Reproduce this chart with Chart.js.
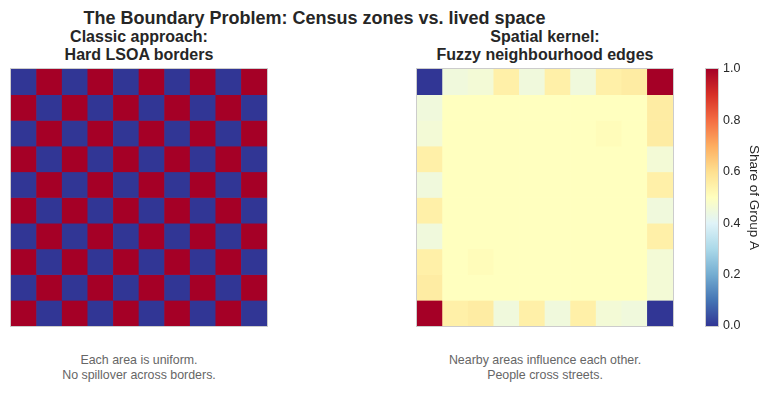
<!DOCTYPE html>
<html>
<head>
<meta charset="utf-8">
<script src="https://cdn.jsdelivr.net/npm/chart.js@4/dist/chart.umd.min.js"></script>
<style>
  html, body { margin: 0; padding: 0; background: #ffffff; }
  body { width: 769px; height: 393px; position: relative; overflow: hidden;
         font-family: "Liberation Sans", Arial, Helvetica, sans-serif; color: #262626; }
  .abs { position: absolute; }
  canvas { display: block; }
  .title { left: 0; width: 629px; top: 7px; text-align: center; font-weight: bold; font-size: 18px; line-height: 22px; }
  .sub { width: 400px; text-align: center; font-weight: bold; font-size: 16px; line-height: 18px; top: 28px; }
  .note { width: 400px; text-align: center; font-size: 12.4px; line-height: 15px; color: #666666; top: 353px; }
</style>
</head>
<body>
<div class="abs title">The Boundary Problem: Census zones vs. lived space</div>
<div class="abs sub" style="left:-61px;">Classic approach:<br>Hard LSOA borders</div>
<div class="abs sub" style="left:345px;">Spatial kernel:<br>Fuzzy neighbourhood edges</div>
<div class="abs note" style="left:-61px;">Each area is uniform.<br>No spillover across borders.</div>
<div class="abs note" style="left:345px;">Nearby areas influence each other.<br>People cross streets.</div>

<div class="abs" style="left:10px; top:68px; width:258px; height:259px;"><canvas id="left"></canvas></div>
<div class="abs" style="left:416px; top:68px; width:258px; height:259px;"><canvas id="right"></canvas></div>
<div class="abs" style="left:705px; top:56px; width:64px; height:283px;"><canvas id="cbar"></canvas></div>

<script>
// ---- Data ----
const columns = ['0','1','2','3','4','5','6','7','8','9'];
const rowIndex = [0,1,2,3,4,5,6,7,8,9];

// Left panel: hard LSOA borders (share of Group A per zone), rows top -> bottom
const hardBorders = [
  [0,1,0,1,0,1,0,1,0,1],
  [1,0,1,0,1,0,1,0,1,0],
  [0,1,0,1,0,1,0,1,0,1],
  [1,0,1,0,1,0,1,0,1,0],
  [0,1,0,1,0,1,0,1,0,1],
  [1,0,1,0,1,0,1,0,1,0],
  [0,1,0,1,0,1,0,1,0,1],
  [1,0,1,0,1,0,1,0,1,0],
  [0,1,0,1,0,1,0,1,0,1],
  [1,0,1,0,1,0,1,0,1,0]
];

// Right panel: spatial kernel (fuzzy neighbourhood edges), rows top -> bottom
const fuzzyKernel = [
  [0.00,0.45,0.46,0.55,0.45,0.55,0.45,0.55,0.56,1.00],
  [0.45,0.50,0.50,0.50,0.50,0.50,0.50,0.50,0.50,0.56],
  [0.46,0.50,0.50,0.50,0.50,0.50,0.50,0.51,0.50,0.56],
  [0.55,0.50,0.50,0.50,0.50,0.50,0.50,0.50,0.50,0.46],
  [0.45,0.50,0.50,0.50,0.50,0.50,0.50,0.50,0.50,0.55],
  [0.55,0.50,0.50,0.50,0.50,0.50,0.50,0.50,0.50,0.45],
  [0.45,0.50,0.50,0.50,0.50,0.50,0.50,0.50,0.50,0.55],
  [0.55,0.50,0.51,0.50,0.50,0.50,0.50,0.50,0.50,0.46],
  [0.56,0.50,0.50,0.50,0.50,0.50,0.50,0.50,0.50,0.46],
  [1.00,0.55,0.56,0.45,0.55,0.45,0.55,0.46,0.45,0.00]
];

const colorbarTicks = [0.0, 0.2, 0.4, 0.6, 0.8, 1.0];
const colorbarLabel = 'Share of Group A';

// ---- Colormap (RdYlBu reversed) ----
const cmapStops = ['#313695','#4575b4','#74add1','#abd9e9','#e0f3f8','#ffffbf','#fee090','#fdae61','#f46d43','#d73027','#a50026'];
function hexToRgb(h){ return [parseInt(h.slice(1,3),16), parseInt(h.slice(3,5),16), parseInt(h.slice(5,7),16)]; }
const cmapRgb = cmapStops.map(hexToRgb);
function cmap(v){
  v = Math.max(0, Math.min(1, v));
  const p = v * (cmapRgb.length - 1);
  const i = Math.min(Math.floor(p), cmapRgb.length - 2);
  const t = p - i;
  const a = cmapRgb[i], b = cmapRgb[i+1];
  const c = a.map((x,k)=>Math.round(x + (b[k]-x)*t));
  return 'rgb(' + c.join(',') + ')';
}

const frame = {
  id: 'frame',
  afterDatasetsDraw(chart) {
    const a = chart.chartArea, ctx = chart.ctx;
    ctx.save();
    ctx.strokeStyle = '#cccccc';
    ctx.lineWidth = 1;
    ctx.strokeRect(Math.round(a.left)-0.5, Math.round(a.top)-0.5, Math.round(a.right-a.left)+1, Math.round(a.bottom-a.top)+1);
    ctx.restore();
  }
};

function heatmap(id, matrix) {
  const datasets = rowIndex.map(r => ({
    data: columns.map(() => [r, r + 1]),
    backgroundColor: matrix[r].map(cmap),
    borderWidth: 0,
    barPercentage: 1,
    categoryPercentage: 1,
    grouped: false
  }));
  new Chart(document.getElementById(id), {
    type: 'bar',
    data: { labels: columns, datasets },
    options: {
      responsive: true, maintainAspectRatio: false, animation: false,
      layout: { padding: 1 },
      plugins: { legend: { display: false }, tooltip: { enabled: false } },
      scales: {
        x: { display: false },
        y: { display: false, min: 0, max: 10, reverse: true }
      }
    },
    plugins: [frame]
  });
}
heatmap('left', hardBorders);
heatmap('right', fuzzyKernel);

// ---- Colorbar ----
new Chart(document.getElementById('cbar'), {
  type: 'bar',
  data: {
    labels: [''],
    datasets: [{
      data: [[0, 1]],
      borderWidth: 0,
      barPercentage: 1,
      categoryPercentage: 1,
      backgroundColor(ctx) {
        const ch = ctx.chart, a = ch.chartArea;
        if (!a) return cmapStops[5];
        const g = ch.ctx.createLinearGradient(0, a.bottom, 0, a.top);
        cmapStops.forEach((c, i) => g.addColorStop(i / (cmapStops.length - 1), c));
        return g;
      }
    }]
  },
  options: {
    responsive: true, maintainAspectRatio: false, animation: false,
    layout: { padding: { top: 13, bottom: 13, left: 1, right: 7 } },
    plugins: { legend: { display: false }, tooltip: { enabled: false } },
    scales: {
      x: { display: false },
      y: {
        position: 'right', min: 0, max: 1,
        afterBuildTicks(scale) { scale.ticks = colorbarTicks.map(v => ({ value: v })); },
        afterFit(scale) { scale.width = 44; },
        grid: { display: false, drawTicks: false },
        border: { display: false },
        ticks: {
          padding: 5, color: '#262626',
          font: { family: '"Liberation Sans", Arial, sans-serif', size: 12.5 },
          callback: v => Number(v).toFixed(1)
        },
        title: {
          display: true, text: colorbarLabel, color: '#262626', padding: 0,
          font: { family: '"Liberation Sans", Arial, sans-serif', size: 13.5 }
        }
      }
    }
  },
  plugins: [frame]
});
</script>
</body>
</html>
